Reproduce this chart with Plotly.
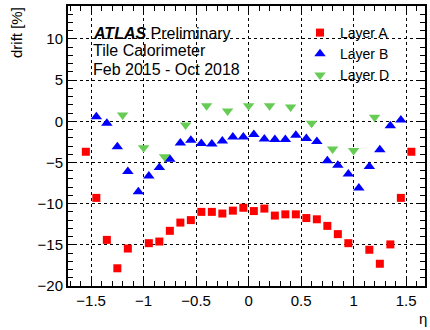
import plotly.graph_objects as go

# Layer A (red squares), eta bin centres of width 0.1
eta_A = [-1.55, -1.45, -1.35, -1.25, -1.15, -0.95, -0.85, -0.75, -0.65, -0.55, -0.45, -0.35,
         -0.25, -0.15, -0.05, 0.05, 0.15, 0.25, 0.35, 0.45, 0.55, 0.65, 0.75, 0.85, 0.95,
         1.15, 1.25, 1.35, 1.45, 1.55]
drift_A = [-3.7, -9.3, -14.4, -17.85, -15.45, -14.8, -14.6, -13.3, -12.3, -12.0, -11.0, -11.0,
           -11.2, -10.85, -10.5, -10.9, -10.6, -11.45, -11.3, -11.3, -11.75, -11.9, -12.7, -13.7, -14.8,
           -15.6, -17.3, -14.95, -9.3, -3.7]

# Layer B (blue triangles)
eta_B = [-1.45, -1.35, -1.25, -1.15, -1.05, -0.95, -0.85, -0.75, -0.65, -0.55, -0.45, -0.35,
         -0.25, -0.15, -0.05, 0.05, 0.15, 0.25, 0.35, 0.45, 0.55, 0.65, 0.75, 0.85, 0.95,
         1.05, 1.15, 1.25, 1.35, 1.45]
drift_B = [0.55, -0.25, -3.1, -6.1, -8.55, -6.65, -5.6, -4.6, -2.65, -2.3, -2.7, -2.75,
           -2.4, -1.9, -1.9, -1.6, -2.15, -2.2, -2.2, -1.7, -2.1, -2.45, -4.8, -5.35, -6.4,
           -8.1, -5.5, -3.45, -0.55, 0.15]

# Layer D (green inverted triangles), eta bin width 0.2
eta_D = [-1.2, -1.0, -0.8, -0.6, -0.4, -0.2, 0.0, 0.2, 0.4, 0.6, 0.8, 1.0, 1.2]
drift_D = [0.75, -3.2, -4.3, -0.45, 1.9, 1.25, 1.9, 1.9, 1.75, -0.25, -3.35, -3.55, 0.5]

x_ticks = [-1.5, -1, -0.5, 0, 0.5, 1, 1.5]
x_ticklabels = ["−1.5", "−1", "−0.5", "0", "0.5", "1", "1.5"]
y_ticks = [-20, -15, -10, -5, 0, 5, 10]
y_ticklabels = ["−20", "−15", "−10", "−5", "0", "5", "10"]

FONT = "Liberation Sans, Arial, Helvetica, sans-serif"
W, H = 430, 330
ML, MR, MT, MB = 68, 5, 6, 44
PW, PH = W - ML - MR, H - MT - MB


def px(x):
    return (x - ML) / PW


def py(y):
    return 1 - (y - MT) / PH


fig = go.Figure()
fig.add_trace(go.Scatter(x=eta_A, y=drift_A, mode="markers", name="Layer A",
                         marker=dict(symbol="square", size=8, color="#ff0000")))
fig.add_trace(go.Scatter(x=eta_B, y=drift_B, mode="markers", name="Layer B",
                         marker=dict(symbol="triangle-up", size=10, color="#0000ff")))
fig.add_trace(go.Scatter(x=eta_D, y=drift_D, mode="markers", name="Layer D",
                         marker=dict(symbol="triangle-down", size=10, color="#66cc55")))

axis_common = dict(
    automargin=False,
    showline=True, linecolor="black", linewidth=2, mirror="allticks",
    ticks="inside", ticklen=9, tickwidth=1, tickcolor="black",
    showgrid=True, gridcolor="black", griddash="dot", gridwidth=1,
    zeroline=False,
    tickfont=dict(family=FONT, size=15, color="black"),
)

fig.update_xaxes(range=[-1.72, 1.68], tickvals=x_ticks, ticktext=x_ticklabels,
                 minor=dict(dtick=0.1, tick0=0, ticks="inside", ticklen=5, tickcolor="black", showgrid=False),
                 **axis_common)
fig.update_yaxes(range=[-20, 14], tickvals=y_ticks, ticktext=y_ticklabels,
                 minor=dict(dtick=1, tick0=0, ticks="inside", ticklen=5, tickcolor="black", showgrid=False),
                 **axis_common)

fig.update_layout(
    width=W, height=H,
    margin=dict(l=ML, r=MR, t=MT, b=MB, autoexpand=False),
    plot_bgcolor="white", paper_bgcolor="white",
    font=dict(family=FONT, size=15, color="black"),
    showlegend=True,
    legend=dict(x=px(300), y=py(17), xanchor="left", yanchor="top",
                bgcolor="rgba(0,0,0,0)", font=dict(size=14), itemwidth=30,
                tracegroupgap=0),
    annotations=[
        dict(text="<b><i>ATLAS</i></b> Preliminary", x=px(91), y=py(33), xref="paper", yref="paper",
             xanchor="left", yanchor="middle", showarrow=False, font=dict(size=16)),
        dict(text="Tile Calorimeter", x=px(91), y=py(51), xref="paper", yref="paper",
             xanchor="left", yanchor="middle", showarrow=False, font=dict(size=16)),
        dict(text="Feb 2015 - Oct 2018", x=px(91), y=py(69), xref="paper", yref="paper",
             xanchor="left", yanchor="middle", showarrow=False, font=dict(size=16)),
        dict(text="drift [%]", x=px(16), y=py(33), xref="paper", yref="paper", textangle=-90,
             xanchor="center", yanchor="middle", showarrow=False, font=dict(size=15)),
        dict(text="η", x=px(423), y=py(318), xref="paper", yref="paper",
             xanchor="center", yanchor="middle", showarrow=False, font=dict(size=15)),
    ],
)

fig.write_html("out.html", config={"displayModeBar": False},
               post_script="document.body.style.margin='0';document.body.style.padding='0';")
